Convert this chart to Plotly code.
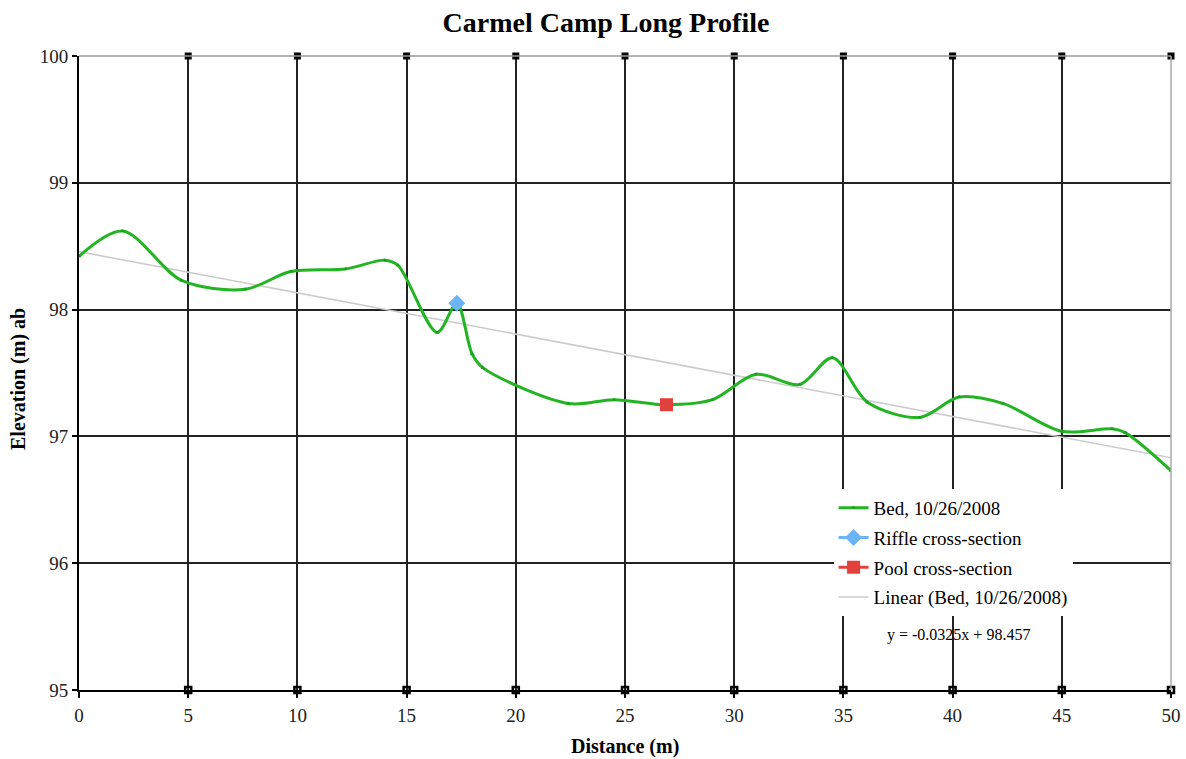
import plotly.graph_objects as go

# Surveyed bed profile (distance along reach, bed elevation)
distance_m = [0, 2.0, 4.7, 7.6, 9.7, 12.2, 14.0, 14.6, 16.4, 17.3, 18.0, 18.5,
              22.4, 24.5, 26.9, 29.0, 31.0, 33.0, 34.5, 36.1, 38.5, 40.3, 42.3,
              45.0, 47.3, 47.9, 50.0]
bed_elev = [98.42, 98.62, 98.23, 98.16, 98.30, 98.32, 98.39, 98.35, 97.82, 98.05,
            97.65, 97.54, 97.26, 97.29, 97.25, 97.29, 97.49, 97.41, 97.62, 97.27,
            97.15, 97.31, 97.26, 97.04, 97.06, 97.03, 96.73]

# Cross-section locations
riffle_x = [17.3]
riffle_y = [98.05]
pool_x = [26.9]
pool_y = [97.25]

# Linear trend of the bed
trend_slope = -0.0325
trend_intercept = 98.457
trend_x = [0, 50]
trend_y = [trend_intercept + trend_slope * v for v in trend_x]

x_ticks = [0, 5, 10, 15, 20, 25, 30, 35, 40, 45, 50]
y_ticks = [95, 96, 97, 98, 99, 100]

SERIF = "Liberation Serif, Times New Roman, serif"

fig = go.Figure()

# Small square tick marks where the vertical grid meets the top and bottom edges
fig.add_trace(go.Scatter(
    x=x_ticks[1:], y=[y_ticks[-1]] * (len(x_ticks) - 1), mode="markers",
    marker=dict(symbol="square", size=7, color="black"),
    showlegend=False, hoverinfo="skip", cliponaxis=False))
fig.add_trace(go.Scatter(
    x=x_ticks[1:], y=[y_ticks[0]] * (len(x_ticks) - 1), mode="markers",
    marker=dict(symbol="square-open", size=6, color="black", line=dict(width=2.5)),
    showlegend=False, hoverinfo="skip", cliponaxis=False))

fig.add_trace(go.Scatter(
    x=trend_x, y=trend_y, mode="lines", name="Linear (Bed, 10/26/2008)",
    line=dict(color="#cccccc", width=1.6), legendgroup="d", legendrank=4))

fig.add_trace(go.Scatter(
    x=distance_m, y=bed_elev, mode="lines+markers", name="Bed, 10/26/2008",
    line=dict(color="#22b422", width=3, shape="spline", smoothing=0.9),
    marker=dict(symbol="triangle-up", size=4, color="#1a9e1a"),
    legendgroup="a", legendrank=1))

fig.add_trace(go.Scatter(
    x=riffle_x, y=riffle_y, mode="lines+markers", name="Riffle cross-section",
    line=dict(color="#6db4f7", width=3),
    marker=dict(symbol="diamond", size=13, color="#6db4f7"),
    legendgroup="b", legendrank=2))

fig.add_trace(go.Scatter(
    x=pool_x, y=pool_y, mode="lines+markers", name="Pool cross-section",
    line=dict(color="#e2403c", width=3),
    marker=dict(symbol="square", size=13, color="#e2403c", line=dict(width=0)),
    legendgroup="c", legendrank=3))

fig.add_annotation(
    x=40.25, y=95.43, xref="x", yref="y", showarrow=False,
    text="y = -0.0325x + 98.457", font=dict(family=SERIF, size=16, color="black"))

# Axis titles
fig.add_annotation(
    x=0.5, y=0, xref="paper", yref="paper", yshift=-56, showarrow=False,
    xanchor="center", yanchor="middle",
    text="<b>Distance (m)</b>", font=dict(family=SERIF, size=20, color="black"))
fig.add_annotation(
    x=0, y=0.5, xref="paper", yref="paper", xshift=-61, yshift=-6, showarrow=False,
    xanchor="center", yanchor="middle", textangle=-90,
    text="<b>Elevation (m) ab</b>", font=dict(family=SERIF, size=20, color="black"))

# Lighter top and right plot edges
fig.add_shape(type="line", xref="paper", yref="paper", x0=0, x1=1, y0=1, y1=1,
              line=dict(color="#999999", width=1.5), layer="above")
fig.add_shape(type="line", xref="paper", yref="paper", x0=1, x1=1, y0=0, y1=1,
              line=dict(color="#aaaaaa", width=1.5), layer="above")

fig.update_layout(
    width=1186, height=759,
    margin=dict(l=79, r=15, t=56, b=69),
    paper_bgcolor="white", plot_bgcolor="white",
    title=dict(text="<b>Carmel Camp Long Profile</b>", x=0.4826, xref="paper",
               xanchor="center", y=0.971, yanchor="middle",
               font=dict(family=SERIF, size=28, color="black")),
    font=dict(family=SERIF, color="black"),
    legend=dict(x=0.691, y=0.317, xanchor="left", yanchor="top",
                bgcolor="white", borderwidth=0, tracegroupgap=2,
                traceorder="grouped",
                font=dict(family=SERIF, size=19, color="black")),
    showlegend=True,
)

fig.update_xaxes(
    range=[0, 50], tickvals=x_ticks, showgrid=True, gridcolor="#222222", gridwidth=1.6,
    showline=True, linecolor="black", linewidth=2, zeroline=False, automargin=False,
    ticks="outside", ticklen=6, tickcolor="black", tickwidth=2, ticklabelstandoff=1,
    tickfont=dict(family=SERIF, size=19, color="#222222"))

fig.update_yaxes(
    range=[95, 100], tickvals=y_ticks, showgrid=True, gridcolor="#222222", gridwidth=1.6,
    showline=True, linecolor="black", linewidth=2, zeroline=False, automargin=False,
    ticks="outside", ticklen=5, tickcolor="black", tickwidth=2,
    tickfont=dict(family=SERIF, size=19, color="#222222"))

fig.write_html("out.html")
